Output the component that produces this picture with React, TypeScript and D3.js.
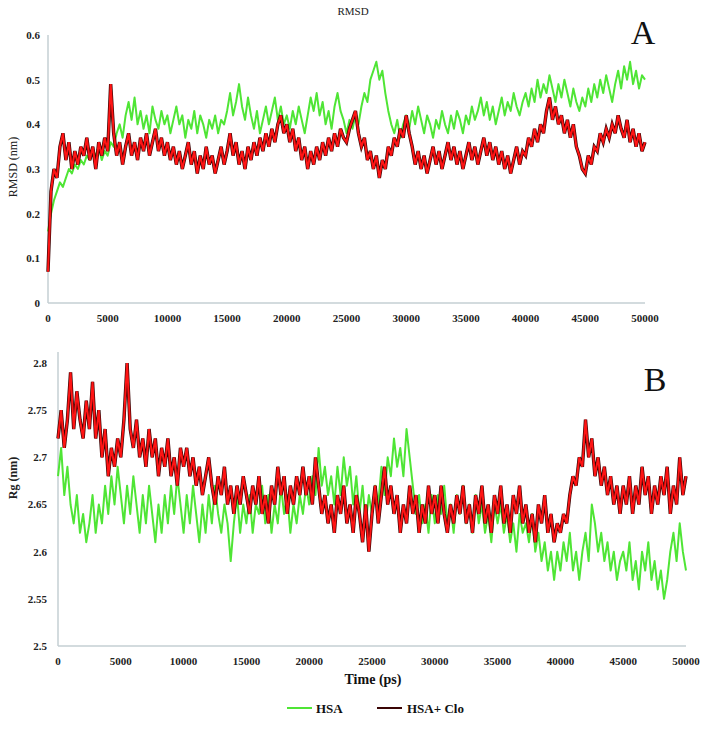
import React from "react";
import * as d3 from "d3";

const STEP = 250;

const rmsdHSA = [
  0.16,0.2,0.23,0.25,0.27,0.26,0.28,0.3,0.29,0.31,0.3,0.32,0.31,0.33,0.32,0.34,0.33,0.35,0.32,0.34,
  0.33,0.36,0.35,0.38,0.4,0.37,0.42,0.45,0.41,0.46,0.4,0.43,0.39,0.42,0.38,0.44,0.41,0.39,0.43,0.4,
  0.42,0.38,0.41,0.44,0.4,0.42,0.37,0.41,0.39,0.43,0.38,0.42,0.4,0.37,0.41,0.39,0.42,0.38,0.41,0.4,
  0.43,0.47,0.42,0.45,0.49,0.44,0.41,0.46,0.42,0.39,0.43,0.38,0.41,0.44,0.4,0.43,0.46,0.41,0.44,0.4,
  0.42,0.39,0.43,0.4,0.44,0.41,0.38,0.42,0.46,0.43,0.47,0.42,0.45,0.4,0.43,0.39,0.44,0.47,0.43,0.41,
  0.38,0.41,0.39,0.42,0.4,0.44,0.47,0.45,0.5,0.52,0.54,0.5,0.52,0.47,0.43,0.4,0.38,0.41,0.37,0.4,
  0.42,0.39,0.43,0.4,0.44,0.41,0.38,0.42,0.4,0.37,0.41,0.39,0.43,0.4,0.38,0.42,0.39,0.43,0.41,0.38,
  0.42,0.4,0.44,0.41,0.43,0.46,0.42,0.45,0.41,0.44,0.4,0.43,0.46,0.42,0.45,0.43,0.47,0.44,0.42,0.45,
  0.47,0.44,0.48,0.45,0.5,0.46,0.49,0.47,0.51,0.48,0.45,0.49,0.46,0.5,0.47,0.44,0.48,0.45,0.43,0.46,
  0.44,0.48,0.45,0.49,0.46,0.5,0.47,0.51,0.48,0.45,0.49,0.52,0.48,0.53,0.5,0.54,0.49,0.52,0.48,0.51,
  0.5,
];

const rmsdHSAClo = [
  0.07,0.25,0.3,0.28,0.35,0.38,0.32,0.36,0.3,0.34,0.31,0.35,0.33,0.37,0.32,0.35,0.3,0.36,0.33,0.37,
  0.34,0.49,0.38,0.33,0.36,0.31,0.35,0.38,0.33,0.36,0.32,0.37,0.34,0.38,0.33,0.36,0.39,0.34,0.37,0.33,
  0.36,0.32,0.35,0.31,0.34,0.3,0.33,0.36,0.31,0.34,0.29,0.33,0.3,0.35,0.31,0.33,0.29,0.32,0.35,0.31,
  0.34,0.38,0.33,0.36,0.31,0.34,0.3,0.35,0.32,0.36,0.33,0.37,0.34,0.38,0.35,0.39,0.36,0.4,0.42,0.38,
  0.4,0.36,0.39,0.34,0.37,0.32,0.35,0.3,0.34,0.31,0.35,0.32,0.36,0.33,0.37,0.34,0.38,0.35,0.39,0.37,
  0.36,0.39,0.41,0.43,0.38,0.35,0.37,0.32,0.34,0.3,0.33,0.28,0.32,0.3,0.35,0.33,0.37,0.35,0.39,0.37,
  0.42,0.38,0.35,0.31,0.34,0.3,0.33,0.29,0.32,0.35,0.31,0.34,0.3,0.33,0.36,0.32,0.35,0.31,0.34,0.3,
  0.33,0.36,0.32,0.35,0.31,0.34,0.37,0.33,0.36,0.32,0.35,0.31,0.34,0.3,0.33,0.29,0.32,0.35,0.31,0.34,
  0.33,0.37,0.35,0.39,0.36,0.4,0.38,0.43,0.46,0.41,0.44,0.4,0.42,0.38,0.41,0.37,0.4,0.35,0.33,0.3,
  0.29,0.33,0.31,0.35,0.34,0.38,0.36,0.39,0.37,0.4,0.38,0.42,0.39,0.37,0.41,0.36,0.39,0.35,0.38,0.34,
  0.36,
];

const rgHSA = [
  2.68,2.71,2.66,2.69,2.65,2.63,2.66,2.62,2.64,2.61,2.63,2.66,2.62,2.65,2.63,2.67,2.64,2.68,2.65,2.69,
  2.66,2.63,2.67,2.64,2.68,2.65,2.62,2.66,2.63,2.67,2.64,2.61,2.65,2.62,2.66,2.63,2.67,2.64,2.68,2.65,
  2.62,2.66,2.63,2.67,2.64,2.61,2.65,2.62,2.66,2.63,2.67,2.64,2.62,2.65,2.63,2.59,2.63,2.66,2.62,2.65,
  2.63,2.66,2.62,2.65,2.64,2.67,2.63,2.66,2.62,2.65,2.63,2.67,2.64,2.66,2.62,2.65,2.63,2.66,2.64,2.67,
  2.65,2.68,2.66,2.71,2.67,2.69,2.66,2.68,2.65,2.69,2.66,2.7,2.67,2.69,2.65,2.68,2.64,2.67,2.63,2.66,
  2.64,2.67,2.65,2.69,2.66,2.7,2.68,2.72,2.69,2.71,2.68,2.73,2.7,2.67,2.64,2.66,2.63,2.65,2.62,2.66,
  2.63,2.66,2.64,2.67,2.63,2.65,2.62,2.66,2.64,2.67,2.63,2.65,2.62,2.66,2.63,2.65,2.62,2.64,2.61,2.65,
  2.63,2.65,2.62,2.64,2.61,2.63,2.6,2.64,2.62,2.63,2.61,2.64,2.6,2.62,2.59,2.61,2.58,2.6,2.57,2.6,
  2.58,2.61,2.59,2.62,2.58,2.6,2.57,2.6,2.62,2.59,2.65,2.63,2.6,2.62,2.59,2.61,2.58,2.6,2.57,2.59,
  2.6,2.58,2.61,2.57,2.59,2.56,2.6,2.58,2.61,2.57,2.59,2.56,2.58,2.55,2.57,2.6,2.62,2.59,2.63,2.6,
  2.58,
];

const rgHSAClo = [
  2.72,2.75,2.71,2.74,2.79,2.73,2.77,2.74,2.72,2.76,2.73,2.78,2.72,2.75,2.7,2.73,2.68,2.71,2.69,2.72,
  2.7,2.74,2.8,2.73,2.71,2.74,2.7,2.72,2.69,2.73,2.7,2.72,2.68,2.71,2.69,2.72,2.68,2.7,2.67,2.71,
  2.69,2.71,2.68,2.7,2.67,2.69,2.66,2.68,2.7,2.67,2.65,2.68,2.66,2.69,2.65,2.67,2.64,2.67,2.65,2.68,
  2.66,2.64,2.67,2.65,2.68,2.64,2.66,2.63,2.67,2.65,2.69,2.66,2.68,2.64,2.67,2.65,2.68,2.66,2.69,2.66,
  2.68,2.65,2.7,2.67,2.64,2.66,2.63,2.65,2.62,2.66,2.64,2.67,2.63,2.65,2.62,2.66,2.64,2.61,2.65,2.6,
  2.64,2.67,2.63,2.66,2.69,2.65,2.67,2.64,2.66,2.62,2.65,2.63,2.67,2.64,2.66,2.62,2.65,2.63,2.67,2.64,
  2.66,2.63,2.67,2.64,2.62,2.65,2.63,2.66,2.64,2.67,2.63,2.65,2.62,2.66,2.64,2.67,2.63,2.65,2.62,2.66,
  2.64,2.67,2.63,2.65,2.62,2.66,2.64,2.67,2.63,2.65,2.62,2.64,2.61,2.65,2.63,2.66,2.62,2.64,2.61,2.63,
  2.62,2.64,2.63,2.66,2.68,2.67,2.7,2.69,2.74,2.7,2.72,2.68,2.7,2.67,2.69,2.66,2.68,2.65,2.67,2.64,
  2.67,2.65,2.68,2.64,2.67,2.65,2.69,2.66,2.68,2.64,2.67,2.65,2.68,2.66,2.69,2.64,2.67,2.65,2.7,2.66,
  2.68,
];

const xTicks = [0, 5000, 10000, 15000, 20000, 25000, 30000, 35000, 40000, 45000, 50000];
const rmsdTicks = [0, 0.1, 0.2, 0.3, 0.4, 0.5, 0.6];
const rgTicks = [2.5, 2.55, 2.6, 2.65, 2.7, 2.75, 2.8];
const seriesNames = ["HSA", "HSA+ Clo"];

const GREEN = "#4fe535";
const RED = "#ff1414";
const DARK = "#3a0505";
const AXIS = "#c5cfd3";
const FONT = "'Liberation Serif', 'Times New Roman', serif";

type PanelProps = {
  x0: number; x1: number; y0: number; y1: number; axisTop: number;
  domain: [number, number]; ticks: number[]; fmt: (v: number) => string;
  green: number[]; red: number[]; yLabelX: number;
};

function Panel(p: PanelProps) {
  const x = d3.scaleLinear().domain([0, 50000]).range([p.x0, p.x1]);
  const y = d3.scaleLinear().domain(p.domain).range([p.y0, p.y1]);
  const line = d3.line<number>().x((_, i) => x(i * STEP)).y((v) => y(v));
  return (
    <g>
      <line x1={p.x0} x2={p.x0} y1={p.axisTop} y2={p.y0} stroke={AXIS} strokeWidth={1.5} />
      <line x1={p.x0} x2={p.x1} y1={p.y0} y2={p.y0} stroke={AXIS} strokeWidth={1.5} />
      {p.ticks.map((t) => (
        <text key={"y" + t} x={p.yLabelX} y={y(t)} dy="0.35em" textAnchor="end"
          fontFamily={FONT} fontWeight="bold" fontSize={11} fill="#222">{p.fmt(t)}</text>
      ))}
      {xTicks.map((t) => (
        <text key={"x" + t} x={x(t)} y={p.y0 + 15} dy="0.35em" textAnchor="middle"
          fontFamily={FONT} fontWeight="bold" fontSize={11} fill="#222">{t}</text>
      ))}
      <path d={line(p.green) || ""} fill="none" stroke={GREEN} strokeWidth={2} strokeLinejoin="round" />
      <path d={line(p.red) || ""} fill="none" stroke={DARK} strokeWidth={3.4} strokeLinejoin="miter" />
      <path d={line(p.red) || ""} fill="none" stroke={RED} strokeWidth={2} strokeLinejoin="miter" />
    </g>
  );
}

export default function App() {
  return (
    <svg width={709} height={730} style={{ position: "absolute", left: 0, top: 0, background: "#fff" }}>
      <rect width={709} height={730} fill="#fff" />
      <text x={353} y={15} textAnchor="middle" fontFamily={FONT} fontSize={11} fill="#222">RMSD</text>
      <text x={643} y={44} textAnchor="middle" fontFamily={FONT} fontSize={34} fill="#111">A</text>
      <text x={655} y={391} textAnchor="middle" fontFamily={FONT} fontSize={34} fill="#111">B</text>
      <text transform="translate(17,167) rotate(-90)" textAnchor="middle" fontFamily={FONT} fontSize={12} fill="#222">RMSD (nm)</text>
      <text transform="translate(17,478) rotate(-90)" textAnchor="middle" fontFamily={FONT} fontWeight="bold" fontSize={12} fill="#222">Rg (nm)</text>
      <Panel x0={48} x1={645} y0={303} y1={35} axisTop={35} domain={[0, 0.6]} ticks={rmsdTicks}
        fmt={(v) => String(v)} green={rmsdHSA} red={rmsdHSAClo} yLabelX={40} />
      <Panel x0={58} x1={686} y0={646} y1={363} axisTop={352} domain={[2.5, 2.8]} ticks={rgTicks}
        fmt={(v) => String(v)} green={rgHSA} red={rgHSAClo} yLabelX={47} />
      <text x={373} y={684} textAnchor="middle" fontFamily={FONT} fontWeight="bold" fontSize={14} fill="#111">Time (ps)</text>
      <g>
        <line x1={287} x2={312} y1={708} y2={708} stroke={GREEN} strokeWidth={2} />
        <text x={316} y={708} dy="0.35em" fontFamily={FONT} fontWeight="bold" fontSize={13} fill="#111">{seriesNames[0]}</text>
        <line x1={377} x2={402} y1={708} y2={708} stroke={DARK} strokeWidth={2} />
        <text x={407} y={708} dy="0.35em" fontFamily={FONT} fontWeight="bold" fontSize={13} fill="#111">{seriesNames[1]}</text>
      </g>
    </svg>
  );
}
